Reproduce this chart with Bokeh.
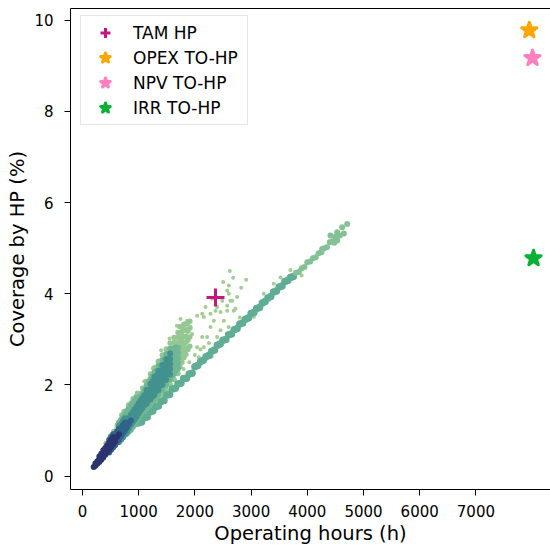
from bokeh.plotting import figure
from bokeh.models import Range1d, FixedTicker, Legend, LegendItem, LinearAxis
from bokeh.embed import file_html
from bokeh.resources import INLINE

# ---------------- data ----------------
x_ticks = [0, 1000, 2000, 3000, 4000, 5000, 6000, 7000]
y_ticks = [0, 2, 4, 6, 8, 10]

# densest part of the cloud near the origin (operating hours, coverage %)
navy_pts = [
    (200, 0.20), (230, 0.23), (230, 0.28), (265, 0.27), (265, 0.33),
    (300, 0.31), (300, 0.37), (300, 0.43), (335, 0.36), (335, 0.43), (335, 0.49),
    (370, 0.41), (370, 0.49), (370, 0.57), (405, 0.47), (405, 0.55), (405, 0.62),
    (440, 0.52), (440, 0.60), (440, 0.68), (475, 0.58), (475, 0.66), (475, 0.74),
    (510, 0.64), (510, 0.72), (510, 0.80), (545, 0.70), (545, 0.78), (545, 0.86),
    (580, 0.76), (580, 0.84), (615, 0.86), (650, 0.92),
]
blue_pts = [
    (475, 0.52), (475, 0.80), (510, 0.58), (510, 0.86), (545, 0.63), (545, 0.92),
    (580, 0.68), (580, 0.93), (615, 0.74), (615, 0.82), (615, 0.90), (615, 0.98),
    (650, 0.80), (650, 0.88), (650, 0.96), (650, 1.04), (685, 0.87), (685, 0.96),
    (685, 1.05), (720, 0.94), (720, 1.03), (720, 1.12), (755, 1.00), (755, 1.09),
    (755, 1.18), (790, 1.07), (790, 1.17), (825, 1.15), (860, 1.22),
]
teal_pts = [
    (650, 0.75), (650, 1.10), (685, 0.80), (685, 1.14), (720, 0.85), (720, 1.21),
    (755, 0.91), (755, 1.27), (790, 0.97), (790, 1.27),
    (825, 1.05), (825, 1.15), (825, 1.25), (860, 1.13), (860, 1.24), (860, 1.35),
    (895, 1.19), (895, 1.30), (895, 1.41), (930, 1.25), (930, 1.36), (930, 1.47),
    (965, 1.31), (965, 1.42), (965, 1.53), (1000, 1.38), (1000, 1.49), (1000, 1.60),
    (1035, 1.44), (1035, 1.55), (1035, 1.66), (1070, 1.50), (1070, 1.61), (1070, 1.72),
    (1105, 1.56), (1105, 1.67), (1105, 1.78),
    (1140, 1.59), (1140, 1.69), (1140, 1.79), (1140, 1.89),
    (1175, 1.66), (1175, 1.77), (1175, 1.88),
    (1210, 1.69), (1210, 1.80), (1210, 1.91), (1210, 2.02),
    (1245, 1.75), (1245, 1.86), (1245, 1.97), (1245, 2.08),
    (1280, 1.78), (1280, 1.88), (1280, 1.98), (1280, 2.08), (1280, 2.18),
    (1315, 1.87), (1315, 1.98), (1315, 2.09), (1315, 2.20),
    (1350, 1.89), (1350, 2.00), (1350, 2.10), (1350, 2.21), (1350, 2.31),
    (1385, 1.99), (1385, 2.10), (1385, 2.21), (1385, 2.32),
    (1420, 2.00), (1420, 2.11), (1420, 2.22), (1420, 2.33), (1420, 2.44),
    (1455, 2.12), (1455, 2.23), (1455, 2.34), (1455, 2.45),
    (1490, 2.11), (1490, 2.23), (1490, 2.34), (1490, 2.45), (1490, 2.57),
    (1525, 2.24), (1525, 2.35), (1525, 2.46), (1525, 2.57),
    (1560, 2.23), (1560, 2.35), (1560, 2.46), (1560, 2.57), (1560, 2.69),
]
mid_pts = [
    (650, 1.18), (685, 1.24), (720, 1.30), (755, 1.36), (790, 1.43), (825, 1.48),
    (860, 1.55), (895, 1.60), (930, 1.66), (965, 1.72),
    (790, 0.93), (790, 1.35), (825, 0.98), (825, 1.38), (860, 1.02), (860, 1.46),
    (895, 1.08), (895, 1.52), (930, 1.13), (930, 1.57), (965, 1.20), (965, 1.63),
    (1000, 1.27), (1000, 1.70), (1035, 1.34), (1035, 1.76), (1070, 1.40), (1070, 1.82),
    (1105, 1.45), (1105, 1.89), (1140, 1.48), (1140, 1.99), (1175, 1.55), (1175, 2.05),
    (1210, 1.58), (1210, 2.13), (1245, 1.64), (1245, 2.19), (1280, 1.68), (1280, 2.28),
    (1315, 1.76), (1315, 2.31), (1350, 1.79), (1350, 2.42), (1385, 1.88), (1385, 2.43),
    (1420, 1.89), (1420, 2.55), (1455, 2.01), (1455, 2.56), (1490, 2.00), (1490, 2.68),
    (1525, 2.13), (1525, 2.68), (1560, 2.12), (1560, 2.80),
    (1595, 2.20), (1595, 2.35), (1595, 2.50), (1595, 2.65), (1595, 2.80),
    (1630, 2.24), (1630, 2.36), (1630, 2.47), (1630, 2.58), (1630, 2.70), (1630, 2.81),
    (1665, 2.32), (1665, 2.45), (1665, 2.58), (1665, 2.70), (1665, 2.83),
    (1700, 2.36), (1700, 2.48), (1700, 2.59), (1700, 2.70), (1700, 2.81),
]
light_pts = [
    (420, 0.72), (500, 0.88), (560, 0.98), (620, 1.12), (700, 1.34), (740, 1.42),
    (820, 1.56), (900, 1.70), (980, 1.82),
    (930, 1.63), (1000, 1.20), (1000, 1.78), (1070, 1.30), (1070, 1.93),
    (1140, 1.38), (1140, 2.08), (1210, 1.48), (1210, 2.24), (1280, 1.58), (1280, 2.38),
    (1350, 1.69), (1350, 2.52), (1420, 1.79), (1420, 2.66), (1490, 1.90), (1490, 2.79),
    (1560, 2.01), (1560, 2.92), (1630, 2.12), (1630, 2.93), (1630, 3.04),
    (1700, 2.25), (1700, 2.93), (1700, 3.04), (1700, 3.15),
    (1735, 2.40), (1735, 2.55), (1735, 2.70), (1735, 2.85), (1735, 3.00), (1735, 3.15), (1735, 3.28),
    (1770, 2.50), (1770, 2.62), (1770, 2.73), (1770, 2.84), (1770, 2.95), (1770, 3.06), (1770, 3.17), (1770, 3.28),
    (1805, 2.60), (1805, 2.75), (1805, 2.90), (1805, 3.05), (1805, 3.20), (1805, 3.33),
    (1840, 2.67), (1840, 2.81), (1840, 2.94), (1840, 3.07), (1840, 3.21), (1840, 3.34),
    (1875, 2.78), (1875, 2.98), (1875, 3.18), (1875, 3.36),
    (1910, 2.85), (1910, 3.05), (1910, 3.25), (1910, 3.40),
]
fringe_pts = [
    (2621, 4.50), (2681, 4.35), (2912, 4.31), (2824, 4.13), (2503, 4.26), (2575, 4.07),
    (2486, 3.85), (2633, 3.85), (2752, 3.93), (2693, 3.63), (2575, 3.63), (2396, 3.71),
    (2278, 3.56), (2159, 3.49), (2040, 3.52), (2337, 3.41), (2515, 3.41), (2456, 3.20),
    (2278, 3.27), (2396, 3.05), (2218, 3.05), (2159, 2.83), (2040, 2.83), (1863, 3.41),
    (1922, 3.27), (1744, 3.45), (1951, 3.12), (2130, 3.05), (2070, 2.61), (2603, 4.18),
    (2603, 4.00), (2575, 3.74), (2664, 3.85), (2307, 3.89), (2189, 3.71), (2367, 3.63),
    (2130, 3.56), (2456, 3.60), (2722, 3.67), (1100, 2.08), (1250, 2.36), (1400, 2.76),
    (1550, 3.02), (1680, 3.30), (1800, 2.35), (1900, 2.50), (2000, 2.66), (2100, 2.78),
    (2250, 2.92), (1150, 1.40), (1240, 1.47), (1330, 1.58), (1420, 1.74), (1180, 1.28),
    (980, 1.12), (1060, 1.22), (3523, 4.36), (3404, 4.22), (3226, 4.00), (3048, 3.49),
    (2600, 3.27), (3700, 4.52), (3900, 4.40), (2800, 3.48), (2300, 2.62),
    (600, 1.05), (680, 1.22), (760, 1.38), (860, 1.62), (940, 1.76),
]
# the narrow, straight lower branch
lower_pts = [
    (1000, 1.17), (1050, 1.19), (1100, 1.28), (1150, 1.30), (1200, 1.41), (1250, 1.43),
    (1300, 1.52), (1350, 1.54), (1400, 1.64), (1450, 1.66), (1500, 1.78), (1550, 1.79),
    (1600, 1.91), (1650, 1.93), (1700, 2.02), (1750, 2.04), (1800, 2.14), (1850, 2.15),
    (1900, 2.24), (1950, 2.26), (2000, 2.40), (2050, 2.43), (2100, 2.51), (2150, 2.54),
    (2200, 2.62), (2250, 2.65), (2300, 2.74), (2350, 2.77), (2400, 2.87), (2450, 2.90),
    (2500, 2.98), (2550, 3.00), (2600, 3.10), (2650, 3.12), (2700, 3.21), (2750, 3.24),
    (2800, 3.34), (2850, 3.36), (2900, 3.44), (2950, 3.47), (3000, 3.57), (3050, 3.59),
    (3100, 3.68), (3150, 3.70), (3200, 3.80), (3250, 3.83), (3300, 3.91), (3350, 3.94),
    (3400, 4.04), (3450, 4.06), (3500, 4.15), (3550, 4.17), (3600, 4.27), (3650, 4.29),
    (3700, 4.36), (3750, 4.38),
]
lower_end_pts = [
    (3800, 4.46), (3850, 4.48), (3900, 4.56), (3950, 4.59), (4000, 4.69), (4050, 4.71),
    (4100, 4.78), (4150, 4.80), (4200, 4.89), (4250, 4.91), (4300, 5.00), (4350, 5.02),
    (4400, 5.13), (4450, 5.15), (4413, 5.28), (4532, 5.35), (4621, 5.46), (4710, 5.53),
    (4650, 5.32), (4532, 5.17), (4500, 5.25), (4265, 4.98), (4480, 5.12), (4580, 5.28),
]

tam_hp_x, tam_hp_y = [2367], [3.92]
opex_x, opex_y = [7950], [9.78]
npv_x, npv_y = [8007], [9.17]
irr_x, irr_y = [8025], [4.78]

FONT = "DejaVu Sans"


def cols(pts):
    return [q[0] for q in pts], [q[1] for q in pts]


p = figure(frame_width=480, frame_height=481, output_backend="svg",
           toolbar_location=None,
           x_range=Range1d(-213, 8327), y_range=Range1d(-0.292, 10.257),
           min_border_left=70, min_border_right=0, min_border_top=8,
           min_border_bottom=60, background_fill_color="white",
           border_fill_color="white")
p.outline_line_color = None
p.grid.visible = False

layers = [
    (fringe_pts, "#a3ce91", 4),
    (light_pts, "#94c893", 5.5),
    (lower_pts, "#5fad95", 7.5),
    (lower_end_pts, "#84c194", 6),
    (mid_pts, "#70b695", 6),
    (teal_pts, "#42918f", 6),
    (blue_pts, "#306488", 6),
    (navy_pts, "#2c3470", 6),
]
for pts, col, sz in layers:
    xs, ys = cols(pts)
    p.scatter(xs, ys, marker="circle", size=sz, fill_color=col, line_color=None)

r_tam = p.scatter(tam_hp_x, tam_hp_y, marker="cross", size=18,
                  line_color="#c71585", line_width=3)
r_opex = p.scatter(opex_x, opex_y, marker="star", size=16, line_width=3,
                   line_join="round", fill_color="#ffa500", line_color="#ffa500")
r_npv = p.scatter(npv_x, npv_y, marker="star", size=16, line_width=3,
                  line_join="round", fill_color="#ff7fbf", line_color="#ff7fbf")
r_irr = p.scatter(irr_x, irr_y, marker="star", size=16, line_width=3,
                  line_join="round", fill_color="#08b135", line_color="#08b135")

for ax in (p.xaxis[0], p.yaxis[0]):
    ax.axis_line_color = "black"
    ax.axis_line_width = 1
    ax.major_tick_line_color = "black"
    ax.major_tick_out = 6
    ax.major_tick_in = 0
    ax.minor_tick_line_color = None
    ax.major_label_text_font = FONT
    ax.major_label_text_font_size = "15px"
    ax.major_label_text_color = "black"
    ax.axis_label_text_font = FONT
    ax.axis_label_text_font_size = "19.5px"
    ax.axis_label_text_font_style = "normal"
    ax.axis_label_text_color = "black"

p.xaxis[0].ticker = FixedTicker(ticks=x_ticks)
p.yaxis[0].ticker = FixedTicker(ticks=y_ticks)
p.xaxis[0].axis_label = "Operating hours (h)"
p.yaxis[0].axis_label = "Coverage by HP (%)"
p.xaxis[0].major_label_standoff = 9
p.xaxis[0].axis_label_standoff = 2
p.yaxis[0].major_label_standoff = 11
p.yaxis[0].axis_label_standoff = 2

top = LinearAxis(ticker=FixedTicker(ticks=[]), major_tick_line_color=None,
                 minor_tick_line_color=None, major_tick_out=0,
                 axis_line_color="black")
p.add_layout(top, "above")

legend = Legend(items=[
    LegendItem(label="TAM HP", renderers=[r_tam]),
    LegendItem(label="OPEX TO-HP", renderers=[r_opex]),
    LegendItem(label="NPV TO-HP", renderers=[r_npv]),
    LegendItem(label="IRR TO-HP", renderers=[r_irr]),
], location=(10, 364))
legend.label_text_font = FONT
legend.label_text_font_size = "17px"
legend.label_text_color = "black"
legend.glyph_width = 40
legend.glyph_height = 25
legend.spacing = 0
legend.padding = 4
legend.margin = 0
legend.label_standoff = 8
legend.label_width = 110
legend.border_line_color = "#cccccc"
legend.border_line_width = 1
legend.background_fill_alpha = 0.8
p.add_layout(legend)

open("out.html", "w").write(file_html(p, INLINE))
